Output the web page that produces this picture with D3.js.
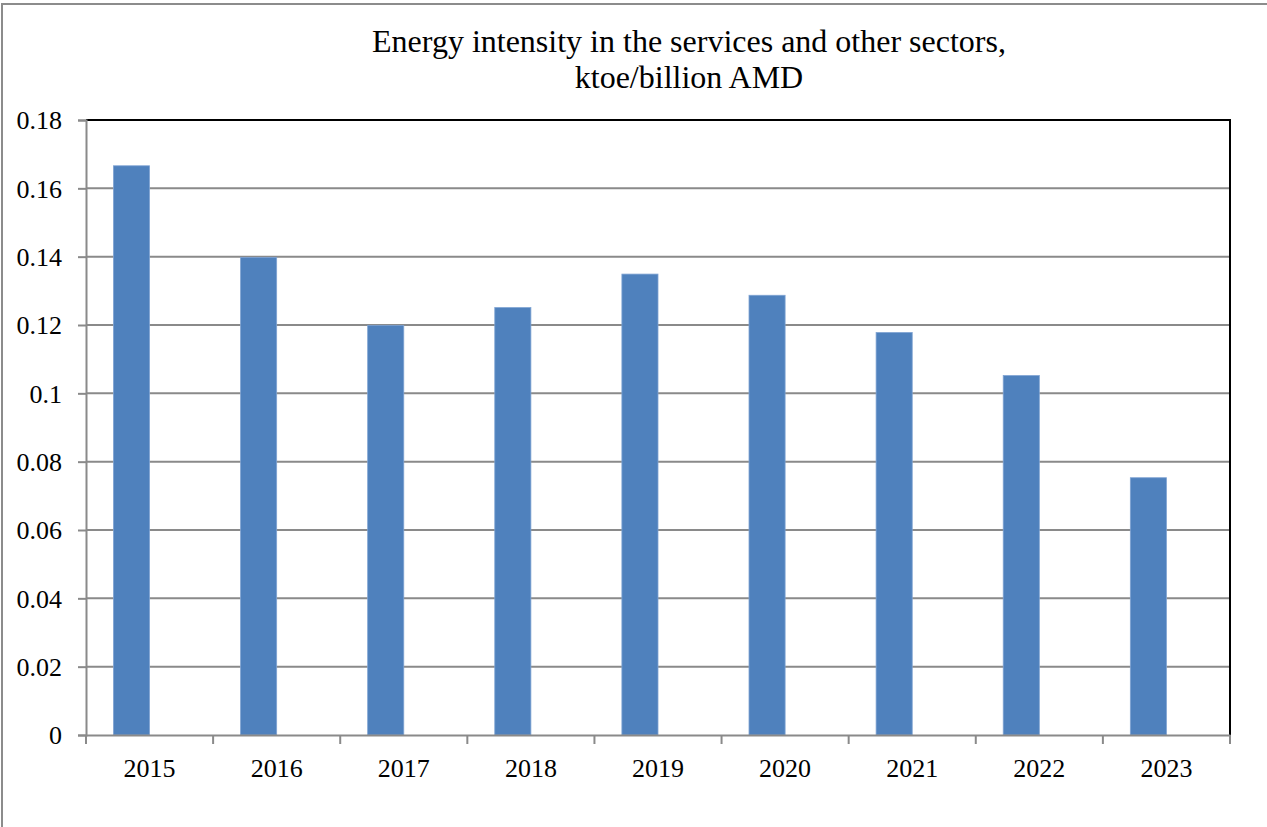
<!DOCTYPE html>
<html><head><meta charset="utf-8">
<script src="https://cdn.jsdelivr.net/npm/d3@7"></script>
<style>html,body{margin:0;padding:0;background:#fff;}svg{display:block;} text{font-family:'Liberation Serif','Times New Roman',serif;}</style>
</head><body>
<script>
const titleLines = ["Energy intensity in the services and other sectors,", "ktoe/billion AMD"];
const years = ["2015","2016","2017","2018","2019","2020","2021","2022","2023"];
const values = [0.1666, 0.1398, 0.1199, 0.1251, 0.1349, 0.1287, 0.1178, 0.1052, 0.0753];
const yTicks = [0, 0.02, 0.04, 0.06, 0.08, 0.1, 0.12, 0.14, 0.16, 0.18];

const W = 1267, H = 827;
const m = {left: 86, right: 1230, top: 120, bottom: 735};
const font = "'Liberation Serif','Times New Roman',serif";

const svg = d3.select("body").append("svg").attr("width", W).attr("height", H);

// outer chart border
svg.append("rect").attr("x", 2).attr("y", 4).attr("width", W + 10).attr("height", H + 10)
  .attr("fill", "none").attr("stroke", "#8c8c8c").attr("stroke-width", 2);

const x = d3.scaleBand().domain(years).range([m.left, m.right]).padding(0);
const y = d3.scaleLinear().domain([0, 0.18]).range([m.bottom, m.top]);

// gridlines
svg.append("g").selectAll("line").data(yTicks.filter(d => d > 0 && d < 0.18)).join("line")
  .attr("x1", m.left).attr("x2", m.right)
  .attr("y1", d => y(d)).attr("y2", d => y(d))
  .attr("stroke", "#8a8a8a").attr("stroke-width", 2);

// bars (Excel-like: bar occupies left half of a centered pair)
const bw = x.bandwidth() / 3.52;
svg.append("g").selectAll("rect").data(values).join("rect")
  .attr("x", (d, i) => x(years[i]) + x.bandwidth() / 2 - bw)
  .attr("width", bw)
  .attr("y", d => y(d))
  .attr("height", d => y(0) - y(d))
  .attr("fill", "#4F81BD")
  .attr("stroke", "#7fa3d3").attr("stroke-width", 0.8);

// plot border top/right (black)
svg.append("path")
  .attr("d", `M${m.left},${m.top}H${m.right}V${m.bottom}`)
  .attr("fill", "none").attr("stroke", "#000").attr("stroke-width", 2);

// y axis
const yAxis = d3.axisLeft(y).tickValues(yTicks).tickSize(8).tickPadding(16)
  .tickFormat(d => d === 0 ? "0" : String(+d.toFixed(2)));
const gy = svg.append("g").attr("transform", `translate(${m.left},0)`).call(yAxis)
  .attr("font-family", null);
gy.select(".domain").attr("stroke", "#8a8a8a").attr("stroke-width", 2);
gy.selectAll(".tick line").attr("stroke", "#8a8a8a").attr("stroke-width", 2);
gy.selectAll(".tick text").style("font-family", font).style("font-size", "26px").attr("fill", "#000")
  .attr("dy", "0.34em");

// x axis
const xAxis = d3.axisBottom(x).tickSize(0).tickPadding(24);
const gx = svg.append("g").attr("transform", `translate(0,${m.bottom})`).call(xAxis)
  .attr("font-family", null);
gx.select(".domain").attr("stroke", "#8a8a8a").attr("stroke-width", 2);
gx.selectAll(".tick text").style("font-family", font).style("font-size", "26px").attr("fill", "#000");
// x boundary ticks
const bounds = years.map(d => x(d)).concat([m.right]);
gx.append("g").selectAll("line").data(bounds).join("line")
  .attr("x1", d => d).attr("x2", d => d).attr("y1", 0).attr("y2", 9)
  .attr("stroke", "#8a8a8a").attr("stroke-width", 2);

// title
svg.append("g").selectAll("text").data(titleLines).join("text")
  .attr("x", 689).attr("y", (d, i) => 52 + i * 36)
  .attr("text-anchor", "middle")
  .style("font-family", font).style("font-size", "32px").attr("fill", "#000")
  .text(d => d);
</script>
</body></html>
